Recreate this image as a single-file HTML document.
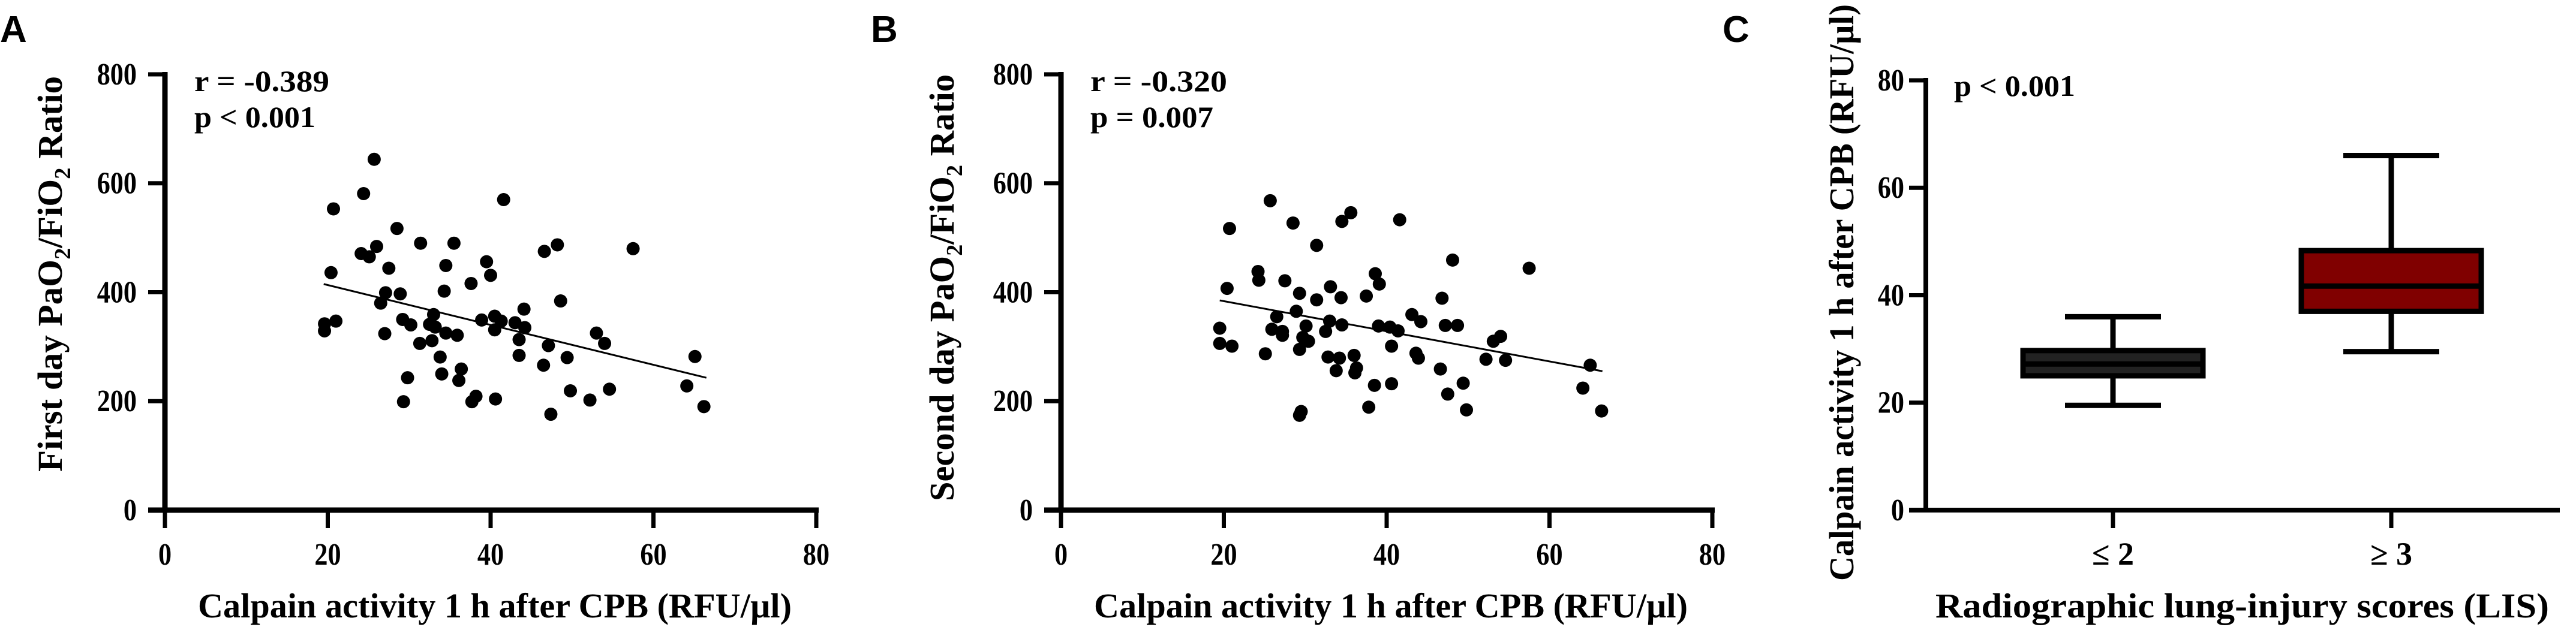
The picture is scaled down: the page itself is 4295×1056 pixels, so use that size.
<!DOCTYPE html>
<html><head><meta charset="utf-8"><style>
html,body{margin:0;padding:0;background:#fff;}
svg{display:block;}
text{font-family:"Liberation Serif",serif;font-weight:bold;fill:#000;}
.lbl{font-family:"Liberation Sans",sans-serif;font-weight:bold;}
</style></head><body>
<svg id="fig" width="4295" height="1056" viewBox="0 0 4295 1056" xmlns="http://www.w3.org/2000/svg"></svg>
<script>
// Panel A data
const aX = [25.7,24.4,20.7,41.6,28.5,31.4,35.5,48.2,46.6,57.5,26,24.1,25.1,27.5,20.4,34.5,39.5,40,37.6,34.3,27.1,28.9,26.5,48.6,44.1,19.6,21,19.6,29.2,30.2,33,32.5,33.2,38.9,40.5,41.3,43,44.2,40.5,34.5,35.9,27,31.3,32.8,43.5,47.1,53,54,33.8,43.5,49.4,46.5,36.4,34,36.1,29.8,65.1,64.1,49.8,54.6,52.2,40.6,38.2,37.7,29.3,47.4,66.2];
const aY = [644,581,553,570,517,490,490,487,475,480,484,471,465,444,436,449,456,431,416,402,399,397,380,384,369,342,347,329,350,340,359,341,336,349,356,347,344,335,331,325,321,324,306,311,313,302,325,306,281,284,280,266,259,250,238,243,282,228,219,222,202,204,209,199,199,176,190];
const aFit = [[19.5,415],[66.5,243]];
// Panel B data
const bX = [25.7,35.6,34.5,41.6,28.5,20.7,31.4,48.1,57.5,24.2,24.3,27.5,38.6,39.1,20.4,33.1,29.3,37.5,34.4,31.4,46.8,28.9,26.5,43.1,44.2,33,19.5,34.5,30.1,39,40.4,41.4,47.2,48.7,25.9,27.2,27.2,32.5,29.7,30.4,19.5,21,40.6,54,53.1,25.1,29.3,32.8,34.2,36,43.6,43.9,52.2,54.6,36.3,36.1,33.8,46.6,65,38.5,40.6,49.4,47.5,64.1,37.8,49.8,66.4,29.5,29.3];
const bY = [568,546,530,533,527,517,486,459,444,438,422,421,434,415,407,410,398,393,390,386,389,365,355,359,346,347,334,340,338,338,336,329,339,339,332,328,321,328,317,310,306,301,301,319,310,287,295,281,279,284,288,279,277,275,261,252,256,259,266,229,232,233,213,224,189,184,182,181,174];
const bFit = [[19.5,385],[66.5,255]];
// Panel C data
const cCats = ["≤ 2","≥ 3"];
const cMin = [19.5,29.5];
const cQ1 = [25,37];
const cMed = [27.2,41.7];
const cQ3 = [29.7,48.3];
const cMax = [36,66];
const cFill = ["#222222","#800000"];
const scatterXTicks = [0,20,40,60,80];
const scatterYTicks = [0,200,400,600,800];
const cYTicks = [0,20,40,60,80];

const svg = document.getElementById('fig');
const NS = 'http://www.w3.org/2000/svg';
function mk(tag, attrs, parent){const e=document.createElementNS(NS,tag);for(const k in attrs)e.setAttribute(k,attrs[k]);(parent||svg).appendChild(e);return e;}
function txt(s, attrs, parent){const e=mk('text',attrs,parent);e.textContent=s;return e;}

function scatterPanel(opt){
  const g=mk('g',{});
  
  
  const x0=opt.x0, x1=opt.x0+1086, y0=851, yt=124;
  const sx=v=>x0+(v/80)*(x1-x0);
  const sy=v=>y0-(v/800)*(y0-yt);
  // axes
  const ya=mk('line',{x1:x0,y1:y0+4,x2:x0,y2:yt-4,stroke:'#000','stroke-width':9},g);
  
  
  const xa=mk('line',{x1:x0-28,y1:y0,x2:x1+4,y2:y0,stroke:'#000','stroke-width':9},g);
  
  
  scatterYTicks.forEach(t=>{
    mk('line',{x1:x0-28,y1:sy(t),x2:x0,y2:sy(t),stroke:'#000','stroke-width':7},g);
    const l=txt(String(t),{x:x0-47,y:sy(t)+17,'text-anchor':'end','font-size':52,transform:`translate(${x0-47},${sy(t)}) scale(0.85,1) translate(${-(x0-47)},${-sy(t)})`},g);
    
    
  });
  scatterXTicks.forEach(t=>{
    mk('line',{x1:sx(t),y1:y0,x2:sx(t),y2:y0+30,stroke:'#000','stroke-width':7},g);
    const l=txt(String(t),{x:sx(t),y:942,'text-anchor':'middle','font-size':52,transform:`translate(${sx(t)},0) scale(0.85,1) translate(${-sx(t)},0)`},g);
    
    
  });
  opt.xs.forEach((xv,i)=>{
    const c=mk('circle',{cx:sx(xv),cy:sy(opt.ys[i]),r:11,fill:'#000'},g);
    
    
  });
  const f=mk('line',{x1:sx(opt.fit[0][0]),y1:sy(opt.fit[0][1]),x2:sx(opt.fit[1][0]),y2:sy(opt.fit[1][1]),stroke:'#000','stroke-width':3},g);
  
  
  const xt=txt('Calpain activity 1 h after CPB (RFU/µl)',{x:x0+55,y:1030,'font-size':58,textLength:990,lengthAdjust:'spacingAndGlyphs'},g);
  
  
  const ytl=mk('text',{transform:`translate(${opt.ytx},${opt.ytc}) rotate(-90)`,'text-anchor':'middle','font-size':58,textLength:opt.ytlen,lengthAdjust:'spacingAndGlyphs'},g);
  ytl.innerHTML=opt.ytitle;
  
  
  const r=txt(opt.r,{x:x0+49,y:152,'font-size':50,textLength:opt.rlen,lengthAdjust:'spacingAndGlyphs'},g);
  
  
  const p=txt(opt.p,{x:x0+49,y:212,'font-size':50,textLength:opt.plen,lengthAdjust:'spacingAndGlyphs'},g);
  
  
  const L=txt(opt.letter,{x:opt.lx,y:70,'font-size':62,class:'lbl'},g);
  
  
}
scatterPanel({name:'panel-a',x0:275,xs:aX,ys:aY,fit:aFit,ytx:103,ytc:457,ytlen:660,
  ytitle:'First day PaO<tspan font-size="38" dy="14">2</tspan><tspan dy="-14">/FiO</tspan><tspan font-size="38" dy="14">2</tspan><tspan dy="-14"> Ratio</tspan>',
  r:'r  = -0.389',rlen:225,p:'p < 0.001',plen:202,letter:'A',lx:0});
scatterPanel({name:'panel-b',x0:1769,xs:bX,ys:bY,fit:bFit,ytx:1590,ytc:480,ytlen:712,
  ytitle:'Second day PaO<tspan font-size="38" dy="14">2</tspan><tspan dy="-14">/FiO</tspan><tspan font-size="38" dy="14">2</tspan><tspan dy="-14"> Ratio</tspan>',
  r:'r  = -0.320',rlen:228,p:'p = 0.007',plen:205,letter:'B',lx:1452});

// Panel C
(function(){
  const g=mk('g',{});
  
  
  const x0=3211, x1=4268, y0=851, yt=134;
  const sy=v=>y0-(v/80)*(y0-yt);
  const cx=i=>3523+i*464;
  const ya=mk('line',{x1:x0,y1:y0+4,x2:x0,y2:yt-4,stroke:'#000','stroke-width':8},g);
  
  
  const xa=mk('line',{x1:x0-28,y1:y0,x2:x1,y2:y0,stroke:'#000','stroke-width':8},g);
  
  
  cYTicks.forEach(t=>{
    mk('line',{x1:x0-28,y1:sy(t),x2:x0,y2:sy(t),stroke:'#000','stroke-width':7},g);
    const l=txt(String(t),{x:x0-36,y:sy(t)+17,'text-anchor':'end','font-size':52,transform:`translate(${x0-36},${sy(t)}) scale(0.85,1) translate(${-(x0-36)},${-sy(t)})`},g);
    
    
  });
  cCats.forEach((c,i)=>{
    mk('line',{x1:cx(i),y1:y0,x2:cx(i),y2:y0+30,stroke:'#000','stroke-width':7},g);
    const l=txt(c,{x:cx(i),y:942,'text-anchor':'middle','font-size':54},g);
    
    
    const hw=150, cw=80;
    const w=mk('line',{x1:cx(i),y1:sy(cMin[i]),x2:cx(i),y2:sy(cMax[i]),stroke:'#000','stroke-width':9},g);
    
    
    mk('line',{x1:cx(i)-cw,y1:sy(cMin[i]),x2:cx(i)+cw,y2:sy(cMin[i]),stroke:'#000','stroke-width':9},g);
    mk('line',{x1:cx(i)-cw,y1:sy(cMax[i]),x2:cx(i)+cw,y2:sy(cMax[i]),stroke:'#000','stroke-width':9},g);
    const b=mk('rect',{x:cx(i)-hw,y:sy(cQ3[i]),width:hw*2,height:sy(cQ1[i])-sy(cQ3[i]),fill:cFill[i],stroke:'#000','stroke-width':9},g);
    
    
    const m=mk('line',{x1:cx(i)-hw,y1:sy(cMed[i]),x2:cx(i)+hw,y2:sy(cMed[i]),stroke:'#000','stroke-width':9},g);
    
    
  });
  const xt=txt('Radiographic lung-injury scores (LIS)',{x:3227,y:1030,'font-size':58,textLength:1023,lengthAdjust:'spacingAndGlyphs'},g);
  
  
  const yt2=txt('Calpain activity 1 h after CPB (RFU/µl)',{transform:'translate(3090,488) rotate(-90)','text-anchor':'middle','font-size':58,textLength:962,lengthAdjust:'spacingAndGlyphs'},g);
  
  
  const p=txt('p < 0.001',{x:3258,y:160,'font-size':50,textLength:202,lengthAdjust:'spacingAndGlyphs'},g);
  
  
  const L=txt('C',{x:2872,y:70,'font-size':62,class:'lbl'},g);
  
  
})();
</script>
</body></html>
